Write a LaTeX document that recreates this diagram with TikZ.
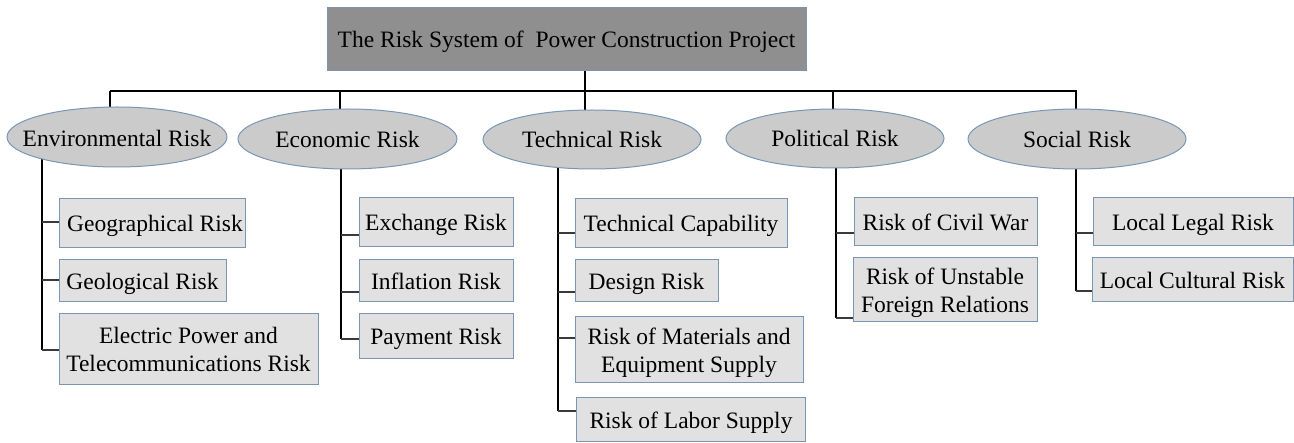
\documentclass[tikz,border=0pt]{standalone}
\usepackage{fontspec}
\setmainfont{Liberation Serif}
\usetikzlibrary{shapes.geometric,backgrounds}
\definecolor{edgeblue}{HTML}{7A96B4}
\definecolor{titlefill}{HTML}{8F8F8F}
\definecolor{ovalfill}{HTML}{CBCBCB}
\definecolor{boxfill}{HTML}{E1E1E1}
\definecolor{branchgray}{HTML}{3A3A3A}
\tikzset{
  txt/.style={font=\fontsize{23.5}{28}\selectfont, text=black, align=center, inner sep=0pt, outer sep=0pt, text depth=0pt},
  titlebox/.style={txt, rectangle, draw=edgeblue, line width=1pt, fill=titlefill},
  oval/.style={ellipse, draw=edgeblue, line width=1pt, fill=ovalfill, inner sep=0pt, outer sep=0pt},
  leaf/.style={txt, rectangle, draw=edgeblue, line width=1pt, fill=boxfill},
  trunk/.style={draw=black, line width=2pt},
  branch/.style={draw=branchgray, line width=1.3pt}
}
\begin{document}
\begin{tikzpicture}[x=1pt,y=-1pt]
\useasboundingbox (0,0) rectangle (1294,443);

% root
\node[titlebox, minimum width=479pt, minimum height=63pt] (root) at (566.5,39.5)
  {The Risk System of~ Power Construction Project};

% risk categories (outline first, caption on top)
\node[oval, minimum width=220pt, minimum height=60pt] (env)  at (117,137)   {};
\node[oval, minimum width=219pt, minimum height=60pt] (econ) at (347.5,139) {};
\node[oval, minimum width=218pt, minimum height=59pt] (tech) at (592,139.5) {};
\node[oval, minimum width=218pt, minimum height=59pt] (pol)  at (835,138.5) {};
\node[oval, minimum width=218pt, minimum height=60pt] (soc)  at (1077,139)  {};
\node[txt] (envT)  at ([yshift=-1pt]env.center)  {Environmental Risk};
\node[txt] (econT) at (econ) {Economic Risk};
\node[txt] (techT) at (tech) {Technical Risk};
\node[txt] (polT)  at (pol)  {Political Risk};
\node[txt] (socT)  at (soc)  {Social Risk};

% environmental
\node[leaf, minimum width=186pt, minimum height=49pt] (geo)  at (152,223.5)  {\hspace*{6pt}Geographical Risk};
\node[leaf, minimum width=167pt, minimum height=42pt] (geol) at (142.5,281)  {Geological Risk};
\node[leaf, minimum width=259pt, minimum height=71pt] (elec) at (188.5,349.5) {Electric Power and\\Telecommunications Risk};

% economic
\node[leaf, minimum width=154pt, minimum height=49pt] (exch) at (436,222.5) {Exchange Risk};
\node[leaf, minimum width=154pt, minimum height=42pt] (infl) at (436,281)   {Inflation Risk};
\node[leaf, minimum width=154pt, minimum height=45pt] (pay)  at (436,336.5) {Payment Risk};

% technical
\node[leaf, minimum width=212pt, minimum height=49pt] (tcap) at (681,223.5)  {Technical Capability};
\node[leaf, minimum width=143pt, minimum height=42pt] (des)  at (646.5,281)  {Design Risk};
\node[leaf, minimum width=228pt, minimum height=66pt] (mat)  at (689,350)    {Risk of Materials and\\Equipment Supply};
\node[leaf, minimum width=229pt, minimum height=44pt] (lab)  at (691,420)    {Risk of Labor Supply};

% political
\node[leaf, minimum width=183pt, minimum height=48pt] (civ)  at (945.5,222) {Risk of Civil War};
\node[leaf, minimum width=184pt, minimum height=64pt] (ufr)  at (945,290)   {Risk of Unstable\\Foreign Relations};

% social
\node[leaf, minimum width=200pt, minimum height=48pt] (legal) at (1193,222)   {Local Legal Risk};
\node[leaf, minimum width=201pt, minimum height=44pt] (cult)  at (1192.5,280) {Local Cultural Risk};

% bus line and drop points
\coordinate (busL) at (110,91);
\coordinate (busR) at (1077,91);
\coordinate (dEnv)  at (110,91);
\coordinate (dEcon) at (340,91);
\coordinate (dTech) at (585,91);
\coordinate (dPol)  at (833,91);
\coordinate (dSoc)  at (1076,91);

% spine x positions below each category
\coordinate (sEnv)  at (42,0);
\coordinate (sEcon) at (341,0);
\coordinate (sTech) at (558,0);
\coordinate (sPol)  at (836,0);
\coordinate (sSoc)  at (1076,0);

\begin{scope}[on background layer]
  \draw[trunk] (busL) -- (busR);
  \draw[trunk] (root.south -| dTech) -- (dTech);
  \draw[trunk] (dEnv)  -- (dEnv |- env.center);
  \draw[trunk] (dEcon) -- (dEcon |- econ.center);
  \draw[trunk] (dTech) -- (dTech |- tech.center);
  \draw[trunk] (dPol)  -- (dPol |- pol.center);
  \draw[trunk] (dSoc)  -- (dSoc |- soc.center);

  % spines
  \draw[trunk] (sEnv |- env.center)   -- (sEnv |- 0,350);
  \draw[trunk] (sEcon |- econ.center) -- (sEcon |- 0,339);
  \draw[trunk] (sTech |- tech.center) -- (sTech |- 0,411);
  \draw[trunk] (sPol |- pol.center)   -- (sPol |- 0,318);
  \draw[trunk] (sSoc |- soc.center)   -- (sSoc |- 0,291);

  % branches
  \draw[branch] (sEnv |- 0,222) -- (geo.west |- 0,222);
  \draw[branch] (sEnv |- 0,280) -- (geol.west |- 0,280);
  \draw[branch] (sEnv |- 0,350) -- (elec.west |- 0,350);

  \draw[branch] (sEcon |- 0,235) -- (exch.west |- 0,235);
  \draw[branch] (sEcon |- 0,292) -- (infl.west |- 0,292);
  \draw[branch] (sEcon |- 0,339) -- (pay.west |- 0,339);

  \draw[branch] (sTech |- 0,233) -- (tcap.west |- 0,233);
  \draw[branch] (sTech |- 0,292) -- (des.west |- 0,292);
  \draw[branch] (sTech |- 0,338) -- (mat.west |- 0,338);
  \draw[branch] (sTech |- 0,411) -- (lab.west |- 0,411);

  \draw[branch] (sPol |- 0,233) -- (civ.west |- 0,233);
  \draw[branch] (sPol |- 0,318) -- (ufr.west |- 0,318);

  \draw[branch] (sSoc |- 0,233) -- (legal.west |- 0,233);
  \draw[branch] (sSoc |- 0,291) -- (cult.west |- 0,291);
\end{scope}
\end{tikzpicture}
\end{document}
